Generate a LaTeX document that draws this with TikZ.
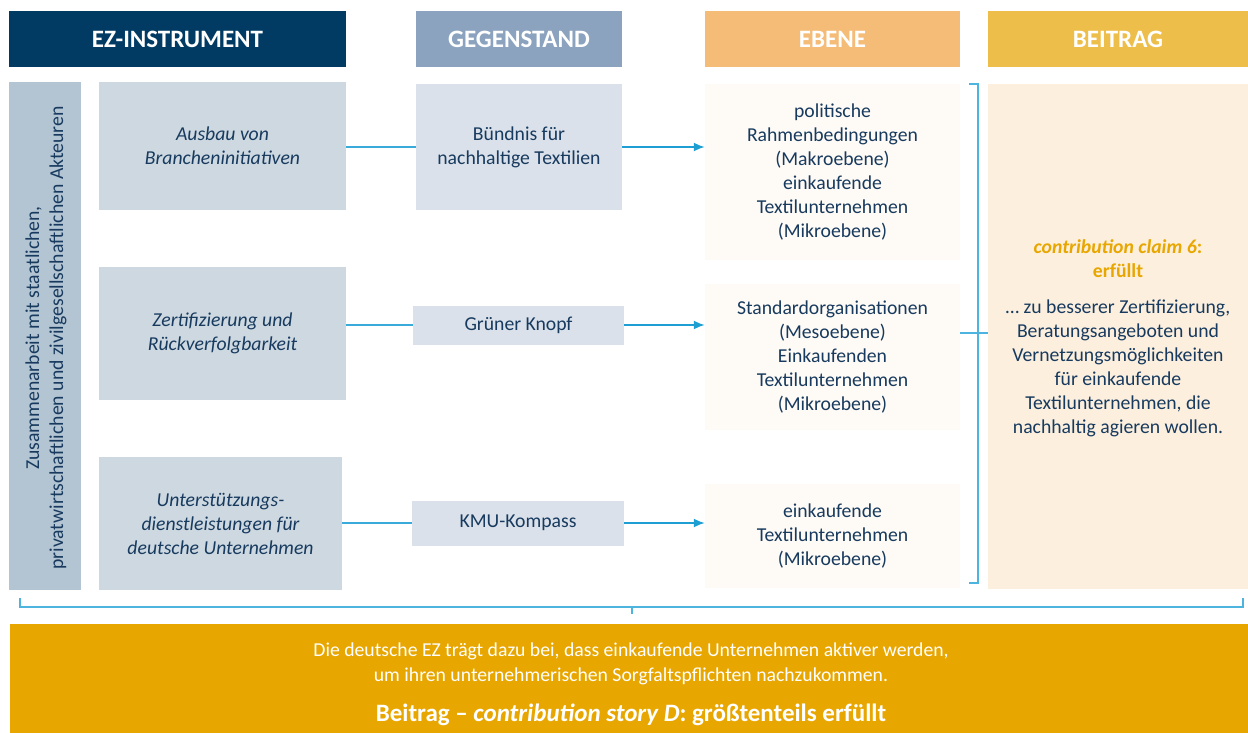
\documentclass[tikz,border=0pt]{standalone}
\usepackage{fontspec}
\setmainfont{Carlito}
\usetikzlibrary{arrows.meta}
\definecolor{navy}{HTML}{013B63}
\definecolor{txt}{HTML}{173A5E}
\definecolor{hgeg}{HTML}{8BA3BE}
\definecolor{heb}{HTML}{F5BC78}
\definecolor{hbei}{HTML}{EEBE4A}
\definecolor{vbox}{HTML}{B3C4D2}
\definecolor{ibox}{HTML}{CDD8E1}
\definecolor{gbox}{HTML}{DAE1EA}
\definecolor{ebox}{HTML}{FEFAF5}
\definecolor{bbox}{HTML}{FCEFDE}
\definecolor{gold}{HTML}{E8A600}
\definecolor{conn}{HTML}{3AAADB}
\definecolor{arr}{HTML}{1E9FD4}
\definecolor{brace}{HTML}{4DB3DF}
\newcommand{\fsbody}{\fontsize{19.7}{24}\selectfont}
\newcommand{\fshead}{\fontsize{25}{28}\selectfont\bfseries}
\begin{document}
\begin{tikzpicture}[x=1pt,y=-1pt,
  box/.style={rectangle, inner sep=0pt, align=center, text=txt, font=\fsbody},
  head/.style={rectangle, inner sep=0pt, align=center, text=white, font=\fshead, minimum height=56pt},
  link/.style={draw=conn, line width=1.4pt},
  arrowlink/.style={draw=arr, line width=1.8pt, -{Latex[length=11pt,width=9pt]}},
  bracestyle/.style={draw=brace, line width=1.3pt}]
\useasboundingbox (0,0) rectangle (1248,733);
% headers
\node[head, fill=navy, minimum width=337pt] (h1) at (177.5,39) {EZ-INSTRUMENT};
\node[head, fill=hgeg, minimum width=206pt] (h2) at (519,39) {GEGENSTAND};
\node[head, fill=heb, minimum width=255pt] (h3) at (832.5,39) {EBENE};
\node[head, fill=hbei, minimum width=260pt] (h4) at (1118,39) {BEITRAG};
% left vertical
\node[box, fill=vbox, minimum width=72pt, minimum height=508pt] (v) at (45,336) {};
\node[box, rotate=90] (vt) at (46,338) {Zusammenarbeit mit staatlichen,\\privatwirtschaftlichen und zivilgesellschaftlichen Akteuren};
% instruments
\node[box, fill=ibox, minimum width=247pt, minimum height=128pt] (i1) at (222.5,146) {\itshape Ausbau von\\\itshape Brancheninitiativen};
\node[box, fill=ibox, minimum width=247pt, minimum height=133pt] (i2) at (222.5,333.5) {\itshape Zertifizierung und\\\itshape Rückverfolgbarkeit};
\node[box, fill=ibox, minimum width=243pt, minimum height=133pt] (i3) at (220.5,523.5) {\itshape Unterstützungs-\\\itshape dienstleistungen für\\\itshape deutsche Unternehmen};
% gegenstand
\node[box, fill=gbox, minimum width=206pt, minimum height=126pt] (g1) at (519,147) {Bündnis für\\nachhaltige Textilien};
\node[box, fill=gbox, minimum width=211pt, minimum height=39pt] (g2) at (518.5,325) {Grüner Knopf};
\node[box, fill=gbox, minimum width=212pt, minimum height=45pt] (g3) at (518,523) {KMU-Kompass};
% ebene
\node[box, fill=ebox, minimum width=255pt, minimum height=176pt] (e1) at (832.5,172) {politische\\Rahmenbedingungen\\(Makroebene)\\einkaufende\\Textilunternehmen\\(Mikroebene)};
\node[box, fill=ebox, minimum width=255pt, minimum height=146pt] (e2) at (832.5,357) {Standardorganisationen\\(Mesoebene)\\Einkaufenden\\Textilunternehmen\\(Mikroebene)};
\node[box, fill=ebox, minimum width=255pt, minimum height=104pt] (e3) at (832.5,536) {einkaufende\\Textilunternehmen\\(Mikroebene)};
% beitrag
\node[box, fill=bbox, minimum width=260pt, minimum height=505pt] (b) at (1118,336.5) {};
\node[box] (bt) at (1118,338) {{\color{gold}\bfseries\itshape contribution claim 6}{\color{gold}\bfseries:}\\{\color{gold}\bfseries erfüllt}\\[12pt]… zu besserer Zertifizierung,\\Beratungsangeboten und\\Vernetzungsmöglichkeiten\\für einkaufende\\Textilunternehmen, die\\nachhaltig agieren wollen.};
% bottom
\node[box, fill=gold, minimum width=1238pt, minimum height=109pt, text=white] (bot) at (629,678.5) {};
\node[box, text=white, font=\fontsize{19.7}{25}\selectfont] (bott) at (631,684) {Die deutsche EZ trägt dazu bei, dass einkaufende Unternehmen aktiver werden,\\um ihren unternehmerischen Sorgfaltspflichten nachzukommen.\\[15pt]{\fontsize{25}{28}\selectfont\bfseries Beitrag – \itshape contribution story D\upshape: größtenteils erfüllt}};
% connectors
\draw[link] (i1.east |- g1.west) -- (g1.west);
\draw[arrowlink] (g1.east) -- (g1.east -| e1.west);
\draw[link] (i2.east |- g2.west) -- (g2.west);
\draw[arrowlink] (g2.east) -- (g2.east -| e2.west);
\draw[link] (i3.east |- g3.west) -- (g3.west);
\draw[arrowlink] (g3.east) -- (g3.east -| e3.west);
% right brace
\coordinate (rbt) at (969,84);
\coordinate (rbb) at (969,583);
\coordinate (rbm) at (960,333);
\draw[bracestyle] (rbt) -- (978,84) -- (978,583) -- (rbb);
\draw[bracestyle] (rbm) -- (rbm -| b.west);
% bottom brace
\coordinate (bbl) at (20,598);
\coordinate (bbr) at (1243,598);
\coordinate (bbm) at (632,614);
\draw[bracestyle] (bbl) -- (20,607) -- (1243,607) -- (bbr);
\draw[bracestyle] (632,607) -- (bbm);
\end{tikzpicture}
\end{document}
